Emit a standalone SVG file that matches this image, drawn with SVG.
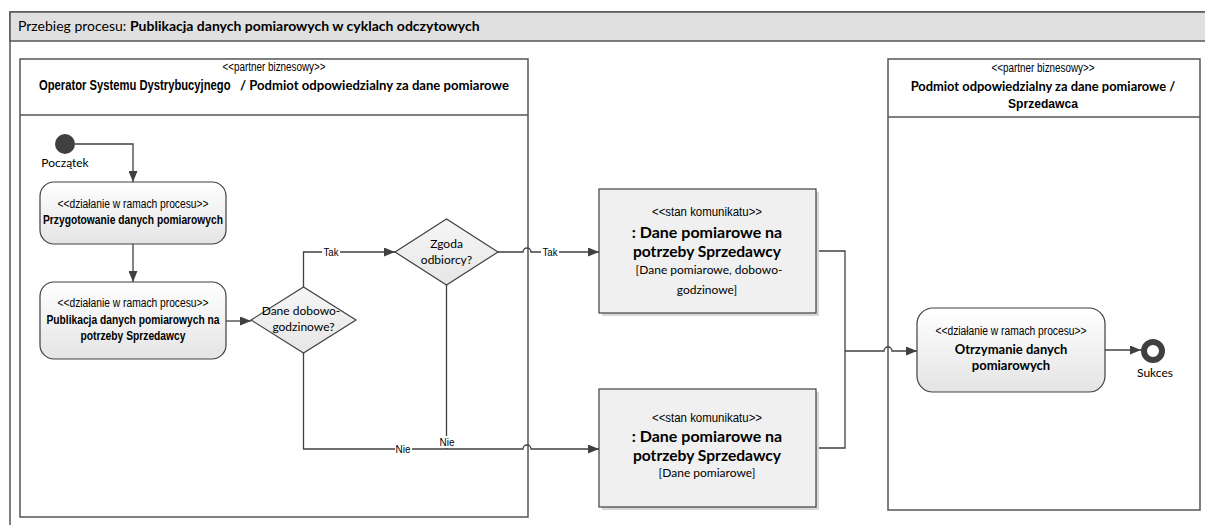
<svg xmlns="http://www.w3.org/2000/svg" width="1205" height="525" viewBox="0 0 1205 525">
<defs>
<linearGradient id="gAct" x1="0" y1="0" x2="0" y2="1">
<stop offset="0" stop-color="#ffffff"/>
<stop offset="1" stop-color="#e4e4e4"/>
</linearGradient>
<linearGradient id="gDia" x1="0" y1="0" x2="0" y2="1">
<stop offset="0" stop-color="#f6f6f6"/>
<stop offset="1" stop-color="#e6e6e6"/>
</linearGradient>
<marker id="arr" markerUnits="userSpaceOnUse" markerWidth="11" markerHeight="9" refX="11" refY="4.5" orient="auto">
<path d="M0,0 L11,4.5 L0,9 z" fill="#404040"/>
</marker>
<style>
.frame{fill:none;stroke:#555;stroke-width:1.5}
.lane{fill:#fff;stroke:#555;stroke-width:1.5}
.act{fill:url(#gAct);stroke:#404040;stroke-width:1.2}
.dia{fill:url(#gDia);stroke:#404040;stroke-width:1.2}
.msg{fill:#f0f0f0;stroke:#404040;stroke-width:1.2}
.shadow{fill:#d8d8d8}
.con{fill:none;stroke:#404040;stroke-width:1.3}
.arrow{marker-end:url(#arr)}
.st{font-family:"Liberation Sans Narrow","Liberation Sans",sans-serif;font-size:12px;text-anchor:middle;fill:#000}
.nb{font-family:"Liberation Sans Narrow","Liberation Sans",sans-serif;font-weight:bold;font-size:13px;text-anchor:middle;fill:#000}
.cal{font-family:Lato,"Liberation Sans",sans-serif;font-size:12px;text-anchor:middle;fill:#000}
.calb{font-family:Lato,"Liberation Sans",sans-serif;font-weight:bold;text-anchor:middle;fill:#000}
.lbl{font-family:"Liberation Sans Narrow","Liberation Sans",sans-serif;font-size:11px;text-anchor:middle;fill:#000}
.lblbg{fill:#fff}
</style>
</defs>

<g id="frame">
<rect x="10" y="12" width="1205" height="530" class="frame"/>
<rect x="10" y="12" width="1205" height="29" fill="#e0e0e0" stroke="#555" stroke-width="1.5"/>
<text x="18" y="31" font-family="Lato,'Liberation Sans',sans-serif" font-size="14" fill="#000">Przebieg procesu: <tspan font-weight="bold">Publikacja danych pomiarowych w cyklach odczytowych</tspan></text>
</g>

<g id="lane-osd">
<rect x="20" y="59" width="508" height="458" class="lane"/>
<line x1="20" y1="115" x2="528" y2="115" stroke="#555" stroke-width="1.5"/>
<text x="274" y="71" class="st" font-size="11.5" textLength="103" lengthAdjust="spacingAndGlyphs">&lt;&lt;partner biznesowy&gt;&gt;</text>
<text transform="translate(39,90) scale(0.76,1)" x="0" y="0" font-family="'Liberation Sans Narrow','Liberation Sans',sans-serif" font-weight="bold" font-size="15" fill="#000" textLength="252" lengthAdjust="spacingAndGlyphs">Operator Systemu Dystrybucyjnego</text>
<text x="240" y="90" font-family="Lato,'Liberation Sans',sans-serif" font-weight="bold" font-size="13.1" fill="#000">/ Podmiot odpowiedzialny za dane pomiarowe</text>
</g>

<g id="lane-sprzedawca">
<rect x="888" y="59" width="312" height="451" class="lane"/>
<line x1="888" y1="117" x2="1200" y2="117" stroke="#555" stroke-width="1.5"/>
<text x="1043" y="72" class="st" font-size="11.5" textLength="103" lengthAdjust="spacingAndGlyphs">&lt;&lt;partner biznesowy&gt;&gt;</text>
<text x="1043" y="91" class="calb" font-size="12.9">Podmiot odpowiedzialny za dane pomiarowe /</text>
<text x="1043" y="108" class="nb" font-size="14" textLength="70" lengthAdjust="spacingAndGlyphs">Sprzedawca</text>
</g>

<g id="connectors">
<path d="M75,144 H133 V182" class="con arrow"/>
<path d="M133,244 V282" class="con arrow"/>
<path d="M226,321 H251" class="con arrow"/>
<path d="M303.5,287 V252 H395" class="con arrow"/>
<path d="M498,252 H523 a4,4 0 0 1 8,0 H599" class="con arrow"/>
<path d="M303.5,353 V449 H523 a4,4 0 0 1 8,0 H599" class="con arrow"/>
<path d="M446.5,285 V449" class="con"/>
<path d="M816,251 H845 V448 H816" class="con"/>
<path d="M845,351 H884 a4,4 0 0 1 8,0 H917" class="con arrow"/>
<path d="M1105,350 H1141" class="con arrow"/>
<rect x="322" y="245" width="18" height="13" class="lblbg"/>
<text x="331" y="256" class="lbl" textLength="15" lengthAdjust="spacingAndGlyphs">Tak</text>
<rect x="541" y="245" width="18" height="13" class="lblbg"/>
<text x="550" y="256" class="lbl" textLength="15" lengthAdjust="spacingAndGlyphs">Tak</text>
<rect x="395" y="442" width="17" height="13" class="lblbg"/>
<text x="403" y="453" class="lbl" textLength="15" lengthAdjust="spacingAndGlyphs">Nie</text>
<rect x="438" y="436" width="18" height="12" class="lblbg"/>
<text x="447" y="446" class="lbl" textLength="15" lengthAdjust="spacingAndGlyphs">Nie</text>
</g>

<g id="start">
<circle cx="65" cy="144" r="10" fill="#404040"/>
<text x="65" y="167" class="cal" font-size="10.5">Początek</text>
</g>

<g id="act-przygotowanie">
<rect x="40" y="182" width="186" height="62" rx="14" class="act"/>
<text x="133" y="208" class="st" textLength="151" lengthAdjust="spacingAndGlyphs">&lt;&lt;działanie w ramach procesu&gt;&gt;</text>
<text x="133" y="224" class="nb" textLength="180" lengthAdjust="spacingAndGlyphs">Przygotowanie danych pomiarowych</text>
</g>

<g id="act-publikacja">
<rect x="40" y="282" width="186" height="77" rx="14" class="act"/>
<text x="133" y="307" class="st" textLength="151" lengthAdjust="spacingAndGlyphs">&lt;&lt;działanie w ramach procesu&gt;&gt;</text>
<text x="133" y="324" class="nb" textLength="173" lengthAdjust="spacingAndGlyphs">Publikacja danych pomiarowych na</text>
<text x="133" y="340" class="nb" textLength="105" lengthAdjust="spacingAndGlyphs">potrzeby Sprzedawcy</text>
</g>

<g id="dec-dobowo">
<polygon points="251,320 303.5,287 356,320 303.5,353" class="dia"/>
<text x="301" y="315" class="cal">Dane dobowo-</text>
<text x="303.5" y="331" class="cal">godzinowe?</text>
</g>

<g id="dec-zgoda">
<polygon points="395,252 446.5,219 498,252 446.5,285" class="dia"/>
<text x="446.5" y="248" class="cal">Zgoda</text>
<text x="446.5" y="264" class="cal">odbiorcy?</text>
</g>

<g id="msg-dobowo">
<rect x="602" y="192" width="217" height="124" class="shadow"/>
<rect x="599" y="189" width="217" height="124" class="msg"/>
<text x="707" y="216" class="st" textLength="110" lengthAdjust="spacingAndGlyphs">&lt;&lt;stan komunikatu&gt;&gt;</text>
<text x="707" y="238" class="calb" font-size="16">: Dane pomiarowe na</text>
<text x="707" y="257" class="calb" font-size="15.6">potrzeby Sprzedawcy</text>
<text x="709" y="274" class="cal" font-size="12.4">[Dane pomiarowe, dobowo-</text>
<text x="707" y="294" class="cal" font-size="12.4">godzinowe]</text>
</g>

<g id="msg-pomiarowe">
<rect x="602" y="392" width="217" height="118" class="shadow"/>
<rect x="599" y="389" width="217" height="118" class="msg"/>
<text x="707" y="422" class="st" textLength="110" lengthAdjust="spacingAndGlyphs">&lt;&lt;stan komunikatu&gt;&gt;</text>
<text x="707" y="442" class="calb" font-size="16">: Dane pomiarowe na</text>
<text x="707" y="461" class="calb" font-size="15.6">potrzeby Sprzedawcy</text>
<text x="707" y="477" class="cal" font-size="12.4">[Dane pomiarowe]</text>
</g>

<g id="act-otrzymanie">
<rect x="917" y="308" width="188" height="84" rx="16" class="act"/>
<text x="1011" y="335" class="st" textLength="151" lengthAdjust="spacingAndGlyphs">&lt;&lt;działanie w ramach procesu&gt;&gt;</text>
<text x="1011" y="354" class="calb" font-size="13">Otrzymanie danych</text>
<text x="1011" y="370" class="calb" font-size="13">pomiarowych</text>
</g>

<g id="end">
<circle cx="1153" cy="351" r="9" fill="#fff" stroke="#404040" stroke-width="6"/>
<text x="1155" y="377" class="cal" font-size="10.5">Sukces</text>
</g>
</svg>
